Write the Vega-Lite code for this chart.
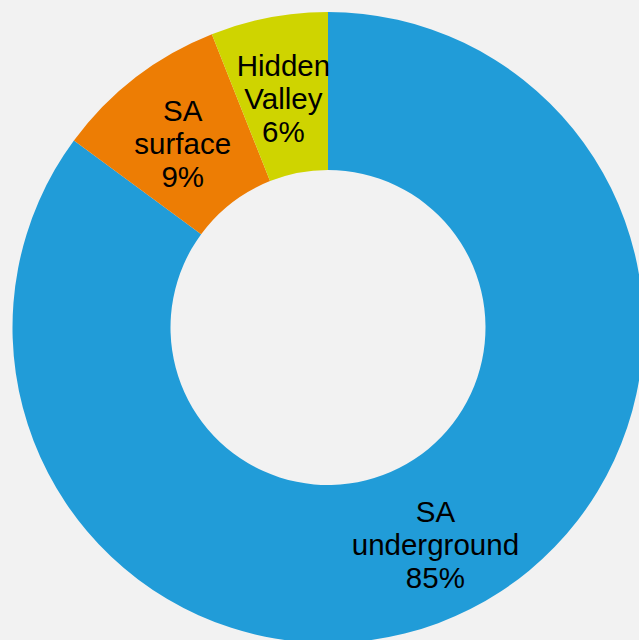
{
  "$schema": "https://vega.github.io/schema/vega-lite/v6.json",
  "autosize": {"type": "none"},
  "width": 622,
  "height": 623,
  "padding": {"left": 17, "top": 16, "right": 0, "bottom": 1},
  "background": "#f2f2f2",
  "config": {"view": {"stroke": null}},
  "data": {
    "values": [
      {"segment": "SA underground", "value": 85.1, "label": "SA\nunderground\n85%"},
      {"segment": "SA surface", "value": 8.9, "label": "SA\nsurface\n9%"},
      {"segment": "Hidden Valley", "value": 6.0, "label": "Hidden\nValley\n6%"}
    ]
  },
  "encoding": {
    "theta": {"field": "value", "type": "quantitative", "stack": true},
    "order": {"field": "value", "type": "quantitative", "sort": "descending"}
  },
  "layer": [
    {
      "mark": {"type": "arc", "outerRadius": 315.5, "innerRadius": 157.5, "stroke": null},
      "encoding": {
        "color": {
          "field": "segment",
          "type": "nominal",
          "scale": {
            "domain": ["SA underground", "SA surface", "Hidden Valley"],
            "range": ["#219cd8", "#ed7d04", "#cfd400"]
          },
          "legend": null
        }
      }
    },
    {
      "mark": {
        "type": "text",
        "radius": 238,
        "dy": -27,
        "font": "Liberation Sans",
        "fontSize": 29.5,
        "lineHeight": 33,
        "lineBreak": "\n",
        "align": "center",
        "baseline": "middle",
        "color": "#000000"
      },
      "encoding": {
        "text": {"field": "label", "type": "nominal"}
      }
    }
  ]
}
